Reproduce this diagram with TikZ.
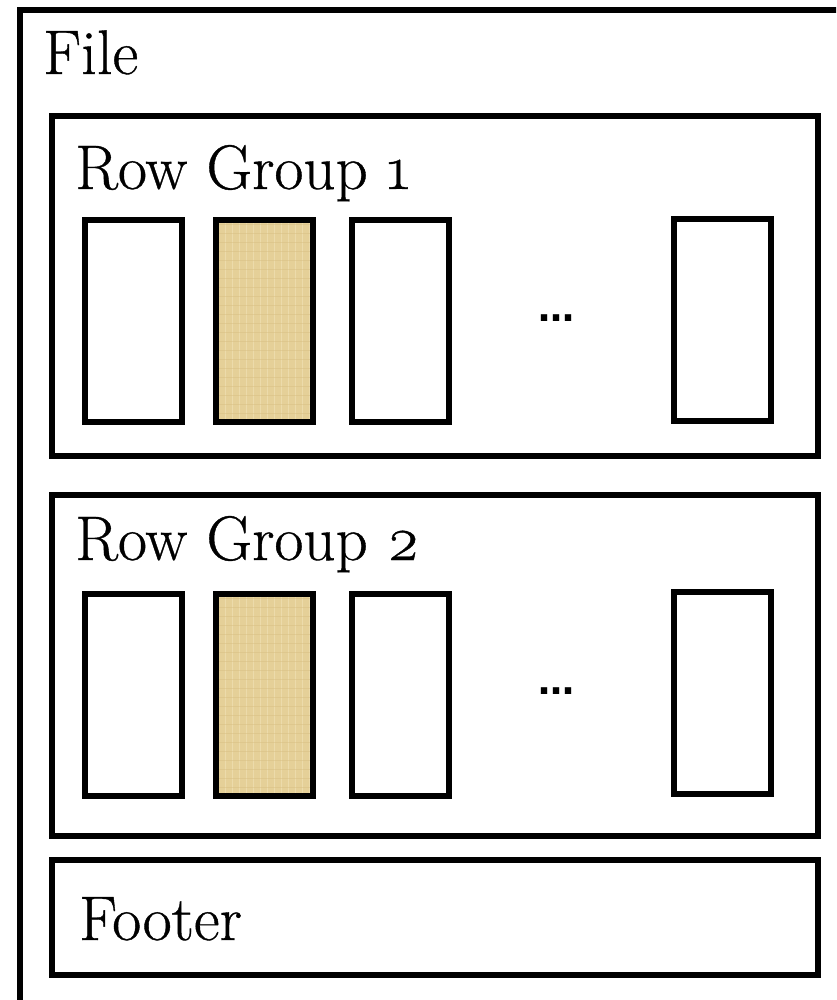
\documentclass[tikz,border=0pt]{standalone}
\usepackage{fontspec}
\setmainfont{Latin Modern Roman}
\newfontfamily\dotfont{DejaVu Sans}
\definecolor{papyrus}{RGB}{229,208,152}
\definecolor{papyruslight}{RGB}{240,225,180}
\definecolor{papyrusdark}{RGB}{214,190,128}
\tikzset{
  frame/.style={draw=black, line width=6pt, rectangle, inner sep=0pt, outer sep=0pt, anchor=north west},
  groupbox/.style={frame, minimum width=766pt, minimum height=340pt},
  colbox/.style={frame, fill=white, minimum width=97pt, minimum height=202pt},
  % woven, linen-like fill of the highlighted column
  selcol/.style={colbox, fill=papyrus, path picture={
      \foreach \k in {0,7,...,100} {
        \draw[papyruslight, line width=0.8pt, opacity=0.7]
          ([xshift=\k pt+2pt]path picture bounding box.north west) -- ([xshift=\k pt+2pt]path picture bounding box.south west);
      }
      \foreach \k in {0,9,...,205} {
        \draw[papyrusdark, line width=0.6pt, opacity=0.45]
          ([yshift=-\k pt-4pt]path picture bounding box.north west) -- ([yshift=-\k pt-4pt]path picture bounding box.north east);
      }
    }},
  footbox/.style={frame, minimum width=766pt, minimum height=115pt},
  label/.style={anchor=base west, inner sep=0pt, font=\fontsize{63}{72}\selectfont\addfontfeatures{FakeBold=0.6}},
  ellip/.style={inner sep=0pt, font=\fontsize{36}{40}\selectfont\dotfont\bfseries}
}
\begin{document}
\begin{tikzpicture}[x=1pt, y=-1pt]
  \useasboundingbox (0,0) rectangle (836,1000);
  \fill[white] (0,0) rectangle (836,1000);

  % outer file frame, running off the right and bottom edges
  \begin{scope}
    \clip (0,0) rectangle (836,1000);
    \node[frame, minimum width=860pt, minimum height=1030pt] (file) at (20,10) {};
  \end{scope}
  \node[label] (filelbl) at (43,74) {File};

  % row group 1
  \node[groupbox] (rg1) at (52,116) {};
  \node[label] (rg1lbl) at (75,189) {Row Group \oldstylenums{1}};
  \node[colbox] (c11) at (84.5,220) {};
  \node[selcol] (c12) at (216,220) {};
  \node[colbox] (c13) at (352,220) {};
  \node[ellip] (d1) at (556,318) {…};
  \node[colbox] (c14) at (674,219) {};

  % row group 2
  \node[groupbox, minimum height=341pt] (rg2) at (52,494.5) {};
  \node[label] (rg2lbl) at (75,560) {Row Group \oldstylenums{2}};
  \node[colbox] (c21) at (84.5,594) {};
  \node[selcol] (c22) at (216,594) {};
  \node[colbox] (c23) at (352,594) {};
  \node[ellip] (d2) at (556,691) {…};
  \node[colbox] (c24) at (674,592) {};

  % footer
  \node[footbox] (foot) at (52,860) {};
  \node[label] (footlbl) at (79,940) {Footer};
\end{tikzpicture}
\end{document}
